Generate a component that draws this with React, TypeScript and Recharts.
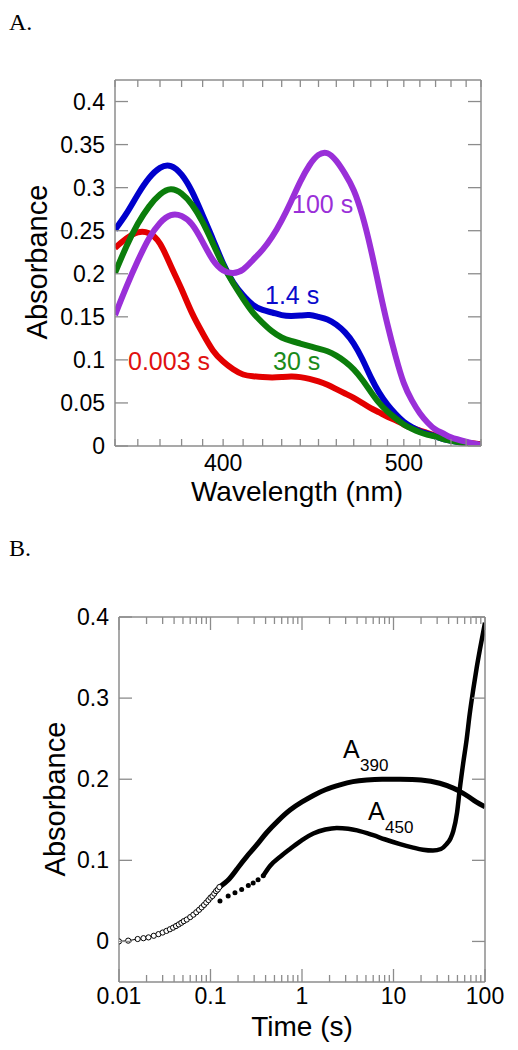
import React from 'react';
import { LineChart, Line, XAxis, YAxis, ComposedChart, Scatter } from 'recharts';

// ---------- Panel A data ----------
const wavelengths = [350, 355, 360, 365, 370, 375, 380, 385, 390, 395, 400, 405, 410, 415, 420, 425, 430, 435, 440, 445, 450, 455, 460, 465, 470, 475, 480, 485, 490, 495, 500, 505, 510, 515, 520, 525, 530, 540, 550];
const abs0003s = [0.230, 0.241, 0.248, 0.247, 0.235, 0.209, 0.182, 0.154, 0.131, 0.111, 0.098, 0.089, 0.083, 0.081, 0.080, 0.0795, 0.080, 0.0806, 0.080, 0.078, 0.075, 0.071, 0.066, 0.061, 0.056, 0.050, 0.044, 0.039, 0.034, 0.030, 0.025, 0.021, 0.018, 0.015, 0.012, 0.009, 0.007, 0.004, 0.002];
const abs1_4s = [0.251, 0.270, 0.292, 0.311, 0.323, 0.325, 0.315, 0.295, 0.268, 0.240, 0.212, 0.190, 0.175, 0.164, 0.158, 0.155, 0.152, 0.151, 0.1515, 0.152, 0.150, 0.147, 0.141, 0.132, 0.119, 0.101, 0.080, 0.062, 0.048, 0.037, 0.028, 0.022, 0.017, 0.014, 0.011, 0.008, 0.006, 0.003, 0.001];
const abs30s = [0.201, 0.232, 0.258, 0.278, 0.292, 0.298, 0.293, 0.280, 0.260, 0.235, 0.210, 0.189, 0.171, 0.155, 0.143, 0.133, 0.126, 0.122, 0.119, 0.116, 0.113, 0.110, 0.105, 0.098, 0.089, 0.077, 0.063, 0.050, 0.040, 0.032, 0.025, 0.020, 0.016, 0.013, 0.011, 0.008, 0.006, 0.003, 0.001];
const abs100s = [0.152, 0.185, 0.215, 0.241, 0.259, 0.268, 0.267, 0.257, 0.237, 0.216, 0.204, 0.201, 0.205, 0.216, 0.228, 0.243, 0.262, 0.284, 0.307, 0.326, 0.338, 0.340, 0.331, 0.316, 0.297, 0.268, 0.229, 0.184, 0.141, 0.104, 0.073, 0.053, 0.038, 0.027, 0.019, 0.0145, 0.010, 0.005, 0.001];

const wlTicks = [350, 360, 370, 380, 390, 400, 410, 420, 430, 440, 450, 460, 470, 480, 490, 500, 510, 520, 530, 540, 550];
const wlTickLabels = ['400', '500'];
const absTicksA = [0, 0.05, 0.1, 0.15, 0.2, 0.25, 0.3, 0.35, 0.4];
const absTickLabelsA = ['0', '0.05', '0.1', '0.15', '0.2', '0.25', '0.3', '0.35', '0.4'];

// ---------- Panel B data ----------
const earlyTimes = [0.010, 0.0126, 0.016, 0.0185, 0.021, 0.024, 0.027, 0.030, 0.033, 0.036, 0.039, 0.042, 0.045, 0.048, 0.051, 0.055, 0.060, 0.065, 0.070, 0.075, 0.080, 0.085, 0.090, 0.095, 0.100, 0.105, 0.110, 0.115, 0.120, 0.125];
const earlyAbs = [0.000, 0.001, 0.003, 0.004, 0.005, 0.007, 0.009, 0.011, 0.013, 0.015, 0.017, 0.019, 0.021, 0.023, 0.025, 0.027, 0.030, 0.033, 0.036, 0.039, 0.042, 0.045, 0.048, 0.051, 0.054, 0.056, 0.059, 0.062, 0.064, 0.067];

const a390Times = [0.125, 0.16, 0.2, 0.25, 0.32, 0.41, 0.55, 0.74, 1.0, 1.33, 1.8, 2.6, 3.6, 5.1, 7.5, 11.8, 20, 32, 45, 53, 65, 80, 100];
const a390Abs = [0.067, 0.077, 0.091, 0.105, 0.119, 0.134, 0.149, 0.162, 0.172, 0.180, 0.187, 0.193, 0.197, 0.199, 0.200, 0.200, 0.199, 0.195, 0.189, 0.185, 0.179, 0.172, 0.166];

const a450DotTimes = [0.127, 0.156, 0.185, 0.219, 0.259, 0.293, 0.331, 0.377];
const a450DotAbs = [0.050, 0.056, 0.060, 0.064, 0.069, 0.072, 0.076, 0.081];

const a450Times = [0.377, 0.447, 0.6, 0.74, 1.0, 1.33, 1.8, 2.4, 3.2, 4.0, 6.0, 8.0, 11.8, 16, 21, 27, 33, 38, 42, 45, 49.5, 53, 57.8, 63, 68, 74.5, 81, 88, 100];
const a450Abs = [0.081, 0.093, 0.106, 0.114, 0.125, 0.133, 0.138, 0.140, 0.139, 0.137, 0.131, 0.126, 0.120, 0.116, 0.113, 0.112, 0.114, 0.120, 0.127, 0.136, 0.159, 0.188, 0.220, 0.249, 0.280, 0.311, 0.337, 0.360, 0.393];

const timeDecades = [0.01, 0.1, 1, 10, 100];
const timeTickLabels = ['0.01', '0.1', '1', '10', '100'];
const absTicksB = [0, 0.1, 0.2, 0.3, 0.4];
const absTickLabelsB = ['0', '0.1', '0.2', '0.3', '0.4'];

// ---------- derived tables ----------
const dataA = wavelengths.map((w, i) => ({ w, r: abs0003s[i], b: abs1_4s[i], g: abs30s[i], p: abs100s[i] }));
const earlyData = earlyTimes.map((t, i) => ({ t, v: earlyAbs[i] }));
const a390Data = a390Times.map((t, i) => ({ t, v: a390Abs[i] }));
const a450DotData = a450DotTimes.map((t, i) => ({ t, v: a450DotAbs[i] }));
const a450Data = a450Times.map((t, i) => ({ t, v: a450Abs[i] }));

const timeTicks: number[] = [];
timeDecades.forEach((d, i) => {
  if (i === timeDecades.length - 1) { timeTicks.push(d); return; }
  for (let k = 1; k <= 9; k++) timeTicks.push(+(d * k).toPrecision(6));
});

const AXIS = '#8c8c8c';
const FONT = '"Liberation Sans", Arial, Helvetica, sans-serif';
const TICK_FS = 23;

const labelFor = (ticks: number[], labels: string[], v: number) => {
  const i = ticks.findIndex((t) => Math.abs(t - v) < 1e-9);
  return i >= 0 ? labels[i] : null;
};
const wlLabel = (v: number) => labelFor([400, 500], wlTickLabels, v);
const isDecade = (v: number) => Math.abs(Math.log10(v) - Math.round(Math.log10(v))) < 1e-6;

// ---- custom inward ticks ----
const makeBottom = (lenFn: (v: number) => number, labelFn: (v: number) => string | null, dy: number) => (p: any) => {
  const v = p.payload.value;
  const lab = labelFn(v);
  return (
    <g key={`b-${v}`}>
      <line x1={p.x} y1={p.y} x2={p.x} y2={p.y - lenFn(v)} stroke={AXIS} strokeWidth={1.3} />
      {lab !== null && (
        <text x={p.x} y={p.y + dy} textAnchor="middle" fontSize={TICK_FS} fontFamily={FONT} fill="#000">{lab}</text>
      )}
    </g>
  );
};
const makeTop = (lenFn: (v: number) => number) => (p: any) => {
  const v = p.payload.value;
  return <line key={`t-${v}`} x1={p.x} y1={p.y} x2={p.x} y2={p.y + lenFn(v)} stroke={AXIS} strokeWidth={1.3} />;
};
const makeLeft = (ticks: number[], labels: string[], len: number) => (p: any) => {
  const v = p.payload.value;
  const lab = labelFor(ticks, labels, v);
  return (
    <g key={`l-${v}`}>
      <line x1={p.x} y1={p.y} x2={p.x + len} y2={p.y} stroke={AXIS} strokeWidth={1.3} />
      {lab !== null && (
        <text x={p.x - 10} y={p.y + 8} textAnchor="end" fontSize={TICK_FS} fontFamily={FONT} fill="#000">{lab}</text>
      )}
    </g>
  );
};
const makeRight = (len: number) => (p: any) => {
  const v = p.payload.value;
  return <line key={`r-${v}`} x1={p.x} y1={p.y} x2={p.x - len} y2={p.y} stroke={AXIS} strokeWidth={1.3} />;
};

const axisLine = { stroke: AXIS, strokeWidth: 1.5 };

const OpenCircle = (p: any) => <circle cx={p.cx} cy={p.cy} r={2.6} fill="#fff" stroke="#000" strokeWidth={1} />;
const FilledDot = (p: any) => <circle cx={p.cx} cy={p.cy} r={2.5} fill="#000" />;

function PanelA() {
  return (
    <LineChart width={518} height={500} data={dataA} margin={{ top: 79, right: 36, bottom: 53, left: 114 }}>
      <XAxis dataKey="w" type="number" scale="log" domain={[350, 550]} allowDataOverflow ticks={wlTicks} interval={0}
        height={1} tickSize={0} tickMargin={0} tickLine={false} axisLine={axisLine}
        tick={makeBottom(() => 7, wlLabel, 25)} />
      <XAxis xAxisId="top" orientation="top" dataKey="w" type="number" scale="log" domain={[350, 550]} allowDataOverflow ticks={wlTicks} interval={0}
        height={1} tickSize={0} tickMargin={0} tickLine={false} axisLine={axisLine}
        tick={makeTop(() => 7)} />
      <YAxis type="number" domain={[0, 0.425]} allowDataOverflow ticks={absTicksA} interval={0}
        width={1} tickSize={0} tickMargin={0} tickLine={false} axisLine={axisLine}
        tick={makeLeft(absTicksA, absTickLabelsA, 13)} />
      <YAxis yAxisId="right" orientation="right" type="number" domain={[0, 0.425]} allowDataOverflow ticks={absTicksA} interval={0}
        width={1} tickSize={0} tickMargin={0} tickLine={false} axisLine={axisLine}
        tick={makeRight(13)} />
      <Line dataKey="r" type="natural" stroke="#e30000" strokeWidth={6} dot={false} activeDot={false} isAnimationActive={false} />
      <Line dataKey="b" type="natural" stroke="#0000cc" strokeWidth={6} dot={false} activeDot={false} isAnimationActive={false} />
      <Line dataKey="g" type="natural" stroke="#0b7d0b" strokeWidth={6} dot={false} activeDot={false} isAnimationActive={false} />
      <Line dataKey="p" type="natural" stroke="#9a2fd8" strokeWidth={6} dot={false} activeDot={false} isAnimationActive={false} />
    </LineChart>
  );
}

function PanelB() {
  return (
    <ComposedChart width={518} height={530} margin={{ top: 96, right: 32, bottom: 67, left: 118 }}>
      <XAxis dataKey="t" type="number" scale="log" domain={[0.01, 100]} allowDataOverflow ticks={timeTicks} interval={0}
        height={1} tickSize={0} tickMargin={0} tickLine={false} axisLine={axisLine}
        tick={makeBottom((v) => (isDecade(v) ? 13 : 7), (v) => (isDecade(v) ? labelFor(timeDecades, timeTickLabels, v) : null), 22)} />
      <XAxis xAxisId="top" orientation="top" dataKey="t" type="number" scale="log" domain={[0.01, 100]} allowDataOverflow ticks={timeTicks} interval={0}
        height={1} tickSize={0} tickMargin={0} tickLine={false} axisLine={axisLine}
        tick={makeTop((v) => (isDecade(v) ? 13 : 7))} />
      <YAxis type="number" domain={[-0.05, 0.4]} allowDataOverflow ticks={absTicksB} interval={0}
        width={1} tickSize={0} tickMargin={0} tickLine={false} axisLine={axisLine}
        tick={makeLeft(absTicksB, absTickLabelsB, 13)} />
      <YAxis yAxisId="right" orientation="right" type="number" domain={[-0.05, 0.4]} allowDataOverflow ticks={absTicksB} interval={0}
        width={1} tickSize={0} tickMargin={0} tickLine={false} axisLine={axisLine}
        tick={makeRight(13)} />
      <Line data={earlyData} dataKey="v" type="monotone" stroke="#000" strokeWidth={1} dot={false} activeDot={false} isAnimationActive={false} />
      <Line data={a390Data} dataKey="v" type="natural" stroke="#000" strokeWidth={5} dot={false} activeDot={false} isAnimationActive={false} />
      <Line data={a450Data} dataKey="v" type="monotone" stroke="#000" strokeWidth={4.5} dot={false} activeDot={false} isAnimationActive={false} />
      <Scatter data={earlyData} dataKey="v" shape={OpenCircle} isAnimationActive={false} />
      <Scatter data={a450DotData} dataKey="v" shape={FilledDot} isAnimationActive={false} />
    </ComposedChart>
  );
}

export default function App() {
  return (
    <div style={{ position: 'absolute', left: 0, top: 0, width: 518, height: 1050, background: '#fff', fontFamily: FONT }}>
      <div style={{ position: 'absolute', left: 0, top: 0 }}><PanelA /></div>
      <div style={{ position: 'absolute', left: 0, top: 520 }}><PanelB /></div>
      <svg width={518} height={1050} style={{ position: 'absolute', left: 0, top: 0, pointerEvents: 'none' }}>
        <text x={9} y={30} fontSize={24} fontFamily='"Liberation Serif", "Times New Roman", serif' fill="#000">A.</text>
        <text x={9} y={556} fontSize={24} fontFamily='"Liberation Serif", "Times New Roman", serif' fill="#000">B.</text>
        <text transform="translate(47,262) rotate(-90)" textAnchor="middle" fontSize={29} fontFamily={FONT} fill="#000">Absorbance</text>
        <text x={297} y={501} textAnchor="middle" fontSize={28} fontFamily={FONT} fill="#000">Wavelength (nm)</text>
        <text transform="translate(65,799) rotate(-90)" textAnchor="middle" fontSize={29} fontFamily={FONT} fill="#000">Absorbance</text>
        <text x={302} y={1036} textAnchor="middle" fontSize={28} fontFamily={FONT} fill="#000">Time (s)</text>
        <text x={128} y={370} fontSize={25} fontFamily={FONT} fill="#e01010">0.003 s</text>
        <text x={273} y={370} fontSize={25} fontFamily={FONT} fill="#1a8a1a">30 s</text>
        <text x={265} y={304} fontSize={25} fontFamily={FONT} fill="#0a0acc">1.4 s</text>
        <text x={292} y={213} fontSize={25} fontFamily={FONT} fill="#9a2fd8">100 s</text>
        <text x={343} y={758} fontSize={25} fontFamily={FONT} fill="#000">A</text>
        <text x={360} y={771} fontSize={17} fontFamily={FONT} fill="#000">390</text>
        <text x={368} y={820} fontSize={25} fontFamily={FONT} fill="#000">A</text>
        <text x={385} y={833} fontSize={17} fontFamily={FONT} fill="#000">450</text>
      </svg>
    </div>
  );
}
